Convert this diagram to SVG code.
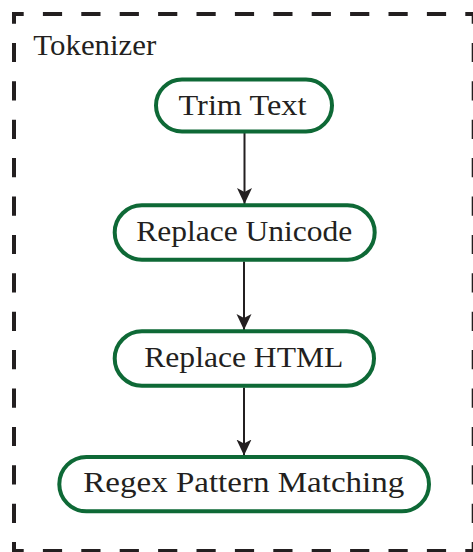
<svg xmlns="http://www.w3.org/2000/svg" width="473" height="552" viewBox="0 0 473 552">
  <style>
    .frame { stroke: #231f20; stroke-width: 4; stroke-dasharray: 19.2 19.2; stroke-dashoffset: 7.5; fill: none; }
    .node rect { fill: #ffffff; stroke: #0e6936; stroke-width: 4; }
    .label { font-family: "Liberation Serif", "Times New Roman", serif; font-size: 29px; fill: #231f20; }
    .edge { stroke: #231f20; stroke-width: 2; fill: none; marker-end: url(#arrow); }
  </style>
  <defs>
    <marker id="arrow" markerUnits="userSpaceOnUse" viewBox="0 0 16 16" refX="16" refY="8" markerWidth="16" markerHeight="16" orient="auto">
      <path d="M0,0.5 L16,8 L0,15.5 L4,8 Z" fill="#231f20"/>
    </marker>
  </defs>
  <rect width="473" height="552" fill="#ffffff"/>

  <g id="tokenizer-frame">
    <line class="frame" x1="12" y1="14" x2="476" y2="14"/>
    <line class="frame" x1="14" y1="12" x2="14" y2="553"/>
    <line class="frame" x1="12" y1="551" x2="476" y2="551"/>
    <line class="frame" x1="473.7" y1="12" x2="473.7" y2="553"/>
    <text class="label" x="33.3" y="55" textLength="123" lengthAdjust="spacingAndGlyphs">Tokenizer</text>
  </g>

  <g id="edges">
    <line class="edge" x1="244.5" y1="133" x2="244.5" y2="204"/>
    <line class="edge" x1="244" y1="261.5" x2="244" y2="330"/>
    <line class="edge" x1="244" y1="387.5" x2="244" y2="455.5"/>
  </g>

  <g id="trim-text" class="node">
    <rect x="156" y="79.5" width="176" height="52" rx="26"/>
    <text class="label" x="242.5" y="115" text-anchor="middle" textLength="128" lengthAdjust="spacingAndGlyphs">Trim Text</text>
  </g>

  <g id="replace-unicode" class="node">
    <rect x="114.7" y="205.3" width="260" height="54.4" rx="27.2"/>
    <text class="label" x="244.2" y="240.7" text-anchor="middle" textLength="216" lengthAdjust="spacingAndGlyphs">Replace Unicode</text>
  </g>

  <g id="replace-html" class="node">
    <rect x="114.7" y="331.3" width="259.3" height="54.4" rx="27.2"/>
    <text class="label" x="243.8" y="366.7" text-anchor="middle" textLength="199" lengthAdjust="spacingAndGlyphs">Replace HTML</text>
  </g>

  <g id="regex-pattern-matching" class="node">
    <rect x="59.3" y="457" width="369.7" height="54.3" rx="27.15"/>
    <text class="label" x="243.8" y="491.7" text-anchor="middle" textLength="321" lengthAdjust="spacingAndGlyphs">Regex Pattern Matching</text>
  </g>
</svg>
